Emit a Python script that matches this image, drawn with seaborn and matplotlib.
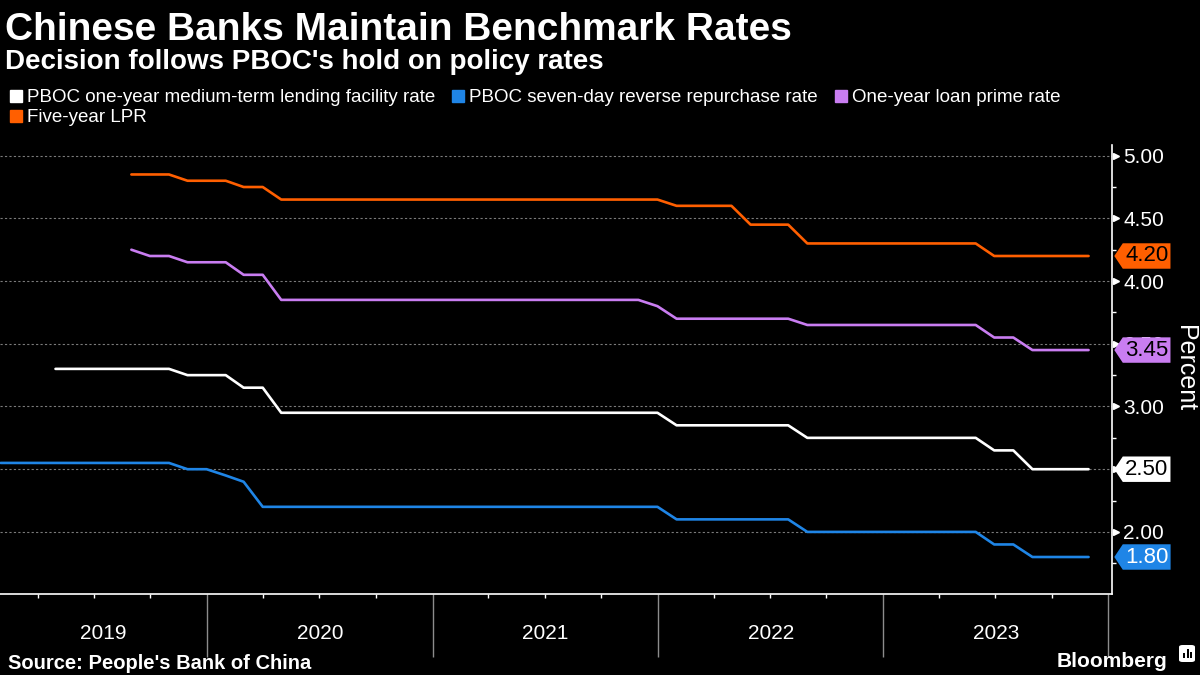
import matplotlib
matplotlib.use("Agg")
import matplotlib.pyplot as plt
import matplotlib.dates as mdates
import matplotlib.ticker as mticker
import matplotlib.transforms as mtransforms
from matplotlib.lines import Line2D
from matplotlib.path import Path
from matplotlib.patches import FancyBboxPatch, Rectangle
import pandas as pd
import seaborn as sns

TITLE = "Chinese Banks Maintain Benchmark Rates"
SUBTITLE = "Decision follows PBOC's hold on policy rates"
SOURCE = "Source: People's Bank of China"

series_names = [
    "PBOC one-year medium-term lending facility rate",
    "PBOC seven-day reverse repurchase rate",
    "One-year loan prime rate",
    "Five-year LPR",
]
colors = ["#FFFFFF", "#1F85E6", "#C97DF1", "#FF5F00"]
tag_text_colors = ["black", "white", "black", "black"]

# month-end readings, every series ends Nov 2023
# MLF: Apr 2019 - Nov 2023
mlf_1y = [
    3.30, 3.30, 3.30, 3.30, 3.30, 3.30, 3.30, 3.25, 3.25,
    3.25, 3.15, 3.15, 2.95, 2.95, 2.95, 2.95, 2.95, 2.95, 2.95, 2.95, 2.95,
    2.95, 2.95, 2.95, 2.95, 2.95, 2.95, 2.95, 2.95, 2.95, 2.95, 2.95, 2.95,
    2.85, 2.85, 2.85, 2.85, 2.85, 2.85, 2.85, 2.75, 2.75, 2.75, 2.75, 2.75,
    2.75, 2.75, 2.75, 2.75, 2.75, 2.65, 2.65, 2.50, 2.50, 2.50, 2.50,
]
# 7-day reverse repo: Jan 2019 - Nov 2023
repo_7d = [
    2.55, 2.55, 2.55, 2.55, 2.55, 2.55, 2.55, 2.55, 2.55, 2.55, 2.50, 2.50,
    2.45, 2.40, 2.20, 2.20, 2.20, 2.20, 2.20, 2.20, 2.20, 2.20, 2.20, 2.20,
    2.20, 2.20, 2.20, 2.20, 2.20, 2.20, 2.20, 2.20, 2.20, 2.20, 2.20, 2.20,
    2.10, 2.10, 2.10, 2.10, 2.10, 2.10, 2.10, 2.00, 2.00, 2.00, 2.00, 2.00,
    2.00, 2.00, 2.00, 2.00, 2.00, 1.90, 1.90, 1.80, 1.80, 1.80, 1.80,
]
# 1-year LPR: Aug 2019 - Nov 2023
lpr_1y = [
    4.25, 4.20, 4.20, 4.15, 4.15,
    4.15, 4.05, 4.05, 3.85, 3.85, 3.85, 3.85, 3.85, 3.85, 3.85, 3.85, 3.85,
    3.85, 3.85, 3.85, 3.85, 3.85, 3.85, 3.85, 3.85, 3.85, 3.85, 3.85, 3.80,
    3.70, 3.70, 3.70, 3.70, 3.70, 3.70, 3.70, 3.65, 3.65, 3.65, 3.65, 3.65,
    3.65, 3.65, 3.65, 3.65, 3.65, 3.55, 3.55, 3.45, 3.45, 3.45, 3.45,
]
# 5-year LPR: Aug 2019 - Nov 2023
lpr_5y = [
    4.85, 4.85, 4.85, 4.80, 4.80,
    4.80, 4.75, 4.75, 4.65, 4.65, 4.65, 4.65, 4.65, 4.65, 4.65, 4.65, 4.65,
    4.65, 4.65, 4.65, 4.65, 4.65, 4.65, 4.65, 4.65, 4.65, 4.65, 4.65, 4.65,
    4.60, 4.60, 4.60, 4.60, 4.45, 4.45, 4.45, 4.30, 4.30, 4.30, 4.30, 4.30,
    4.30, 4.30, 4.30, 4.30, 4.30, 4.20, 4.20, 4.20, 4.20, 4.20, 4.20,
]

yticks = [2.0, 2.5, 3.0, 3.5, 4.0, 4.5, 5.0]
years = [2019, 2020, 2021, 2022, 2023]

month_ends = pd.date_range("2019-02-01", "2023-12-01", freq="MS") - pd.Timedelta(days=1)
frames = []
for name, vals in zip(series_names, [mlf_1y, repo_7d, lpr_1y, lpr_5y]):
    frames.append(pd.DataFrame({"date": month_ends[-len(vals):], "rate": vals, "series": name}))
df = pd.concat(frames, ignore_index=True)

sns.set_theme(style="dark", rc={
    "figure.facecolor": "black", "axes.facecolor": "black",
    "text.color": "white", "xtick.color": "white", "ytick.color": "white",
    "axes.edgecolor": "white",
})
plt.rcParams["font.family"] = ["Liberation Sans", "DejaVu Sans"]

fig = plt.figure(figsize=(12, 6.75), dpi=100)
ax = fig.add_axes([0, 81 / 675, 1112 / 1200, 449 / 675])

sns.lineplot(data=df, x="date", y="rate", hue="series", hue_order=series_names,
             palette=dict(zip(series_names, colors)), estimator=None,
             linewidth=1.9, legend=False, ax=ax)

x0, x1 = pd.Timestamp("2019-01-30"), pd.Timestamp("2024-01-07")
ax.set_xlim(x0, x1)
ax.set_ylim(1.505, 5.085)
ax.set_xlabel("")
ax.set_ylabel("")

for s in ["left", "top"]:
    ax.spines[s].set_visible(False)
for s in ["right", "bottom"]:
    ax.spines[s].set_color("white")
    ax.spines[s].set_linewidth(1.2)

# y axis on the right
ax.yaxis.tick_right()
ax.yaxis.set_major_locator(mticker.FixedLocator(yticks))
ax.yaxis.set_minor_locator(mticker.MultipleLocator(0.25))
ax.yaxis.set_major_formatter(mticker.FormatStrFormatter("%.2f"))
ax.tick_params(axis="y", which="both", left=False, right=True)
ax.tick_params(axis="y", which="major", length=0, pad=8, labelsize=15, labelcolor="white")
ax.tick_params(axis="y", which="minor", length=3, width=1, color="white", direction="out")
ax.grid(axis="y", which="major", color="#7a7a7a", linestyle=(0, (2, 2)), linewidth=0.8)
ax.grid(axis="x", visible=False)

tri = mtransforms.offset_copy(ax.get_yaxis_transform(), fig=fig, x=3.5, y=0, units="dots")
ax.plot([1] * len(yticks), yticks, transform=tri, marker=">", markersize=5,
        linestyle="none", color="white", clip_on=False)

# x axis: year separators + quarter ticks
ax.xaxis.set_major_locator(mdates.YearLocator())
ax.xaxis.set_minor_locator(mdates.MonthLocator(bymonth=[4, 7, 10]))
ax.tick_params(axis="x", which="both", bottom=True, top=False, direction="out")
ax.tick_params(axis="x", which="major", length=45, width=1, color="#8c8c8c", labelbottom=False)
ax.tick_params(axis="x", which="minor", length=3, width=1, color="white", labelbottom=False)

for y in years:
    lo = max(pd.Timestamp(f"{y}-01-01"), x0)
    hi = min(pd.Timestamp(f"{y + 1}-01-01"), x1)
    mid = lo + (hi - lo) / 2
    ax.text(mdates.date2num(mid), -0.089, str(y), transform=ax.get_xaxis_transform(),
            ha="center", va="center", color="white", fontsize=15)


def tag_box(x0, y0, width, height, mutation_size):
    """box with a left-pointing arrow head for last-value tags"""
    pad = 0.1 * mutation_size
    left, bottom = x0 - pad, y0 - pad
    right, top = x0 + width + pad, y0 + height + pad
    tip = (top - bottom) / 3
    verts = [(left, bottom), (right, bottom), (right, top), (left, top),
             (left - tip, (bottom + top) / 2), (left, bottom)]
    return Path(verts, closed=True)


for vals, c, tc in zip([mlf_1y, repo_7d, lpr_1y, lpr_5y], colors, tag_text_colors):
    last = vals[-1]
    ax.annotate(f"{last:.2f}", xy=(1, last), xycoords=ax.get_yaxis_transform(),
                xytext=(13, 0), textcoords="offset pixels", ha="left", va="center",
                fontsize=16, color=tc, annotation_clip=False, zorder=10,
                bbox=dict(boxstyle=tag_box, facecolor=c, edgecolor="none"))

fig.text(1185 / 1200, 1 - 368 / 675, "Percent", rotation=270, ha="center", va="center",
         fontsize=18, color="white")

# legend, ordered so the columns read row by row
handles = [Line2D([], [], marker="s", linestyle="none", markersize=8.5, color=c) for c in colors]
order = [0, 3, 1, 2]
fig.legend([handles[i] for i in order], [series_names[i] for i in order],
           loc="upper left", bbox_to_anchor=(8 / 1200, 1 - 89 / 675), ncol=3,
           frameon=False, fontsize=13.5, handlelength=0.8, handletextpad=0.2,
           columnspacing=0.83, labelspacing=0.15, borderpad=0, borderaxespad=0,
           labelcolor="white")

fig.text(5 / 1200, 1 - 40 / 675, TITLE, va="baseline", ha="left", fontsize=28,
         fontweight="bold", color="white")
fig.text(5 / 1200, 1 - 69 / 675, SUBTITLE, va="baseline", ha="left", fontsize=20,
         fontweight="bold", color="white")
fig.text(8 / 1200, 1 - 669 / 675, SOURCE, va="baseline", ha="left", fontsize=14.5,
         fontweight="bold", color="white")
fig.text(1167 / 1200, 1 - 667 / 675, "Bloomberg", va="baseline", ha="right", fontsize=15,
         fontweight="bold", color="white")

# small logo mark
fig.patches.append(FancyBboxPatch((1179 / 1200, 1 - 662 / 675), 16 / 1200, 17 / 675,
                                  boxstyle="round,pad=0,rounding_size=0.003",
                                  transform=fig.transFigure, facecolor="white", edgecolor="none"))
for bx, bh in [(1183, 5), (1186.5, 9), (1190, 6)]:
    fig.patches.append(Rectangle((bx / 1200, 1 - 658 / 675), 2 / 1200, bh / 675,
                                 transform=fig.transFigure, facecolor="black", edgecolor="none"))

fig.savefig("out.png", dpi=100, facecolor="black")
